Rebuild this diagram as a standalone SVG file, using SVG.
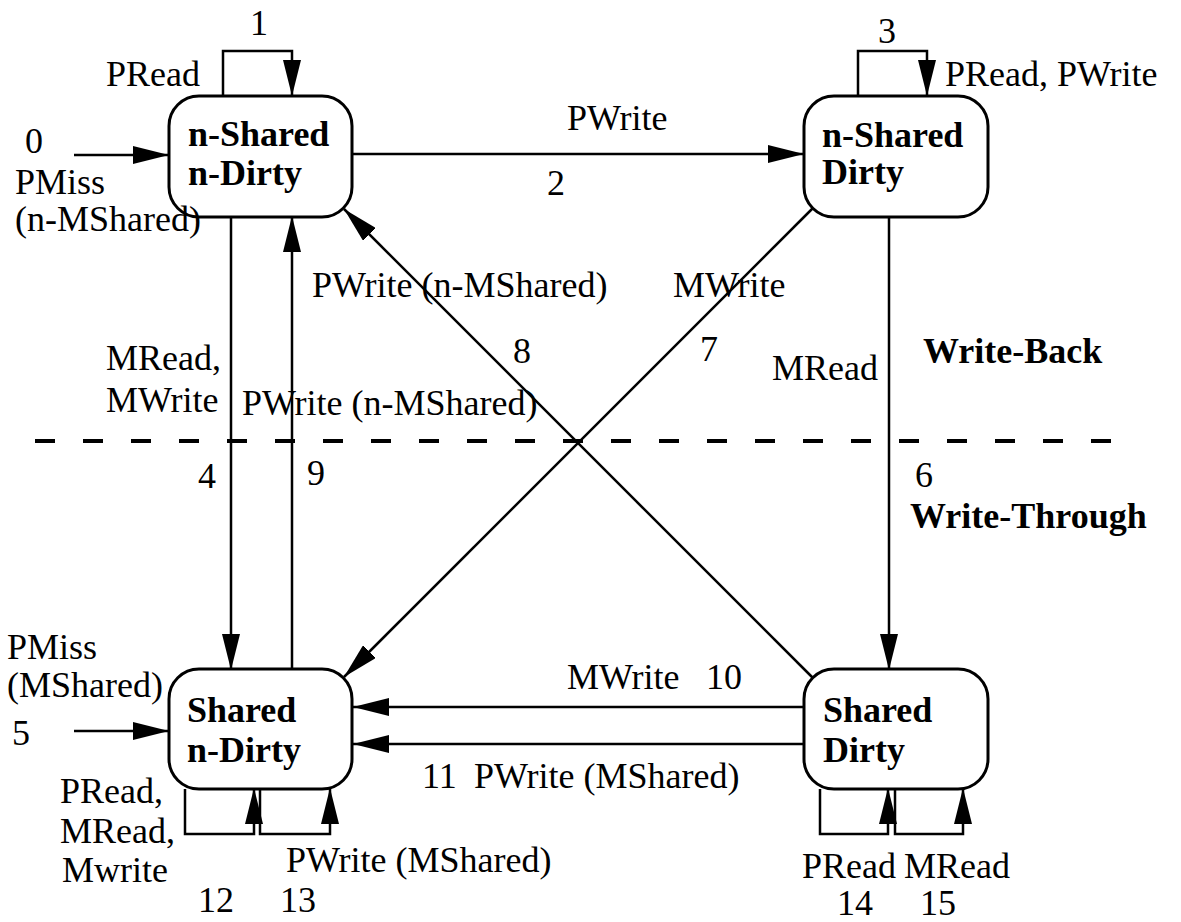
<svg xmlns="http://www.w3.org/2000/svg" width="1181" height="922" viewBox="0 0 1181 922">
  <style>
    .t { font-family: "Liberation Serif", "Times New Roman", serif; font-size: 36px; fill: #000; }
    .b { font-weight: bold; }
    .node { fill: #fff; stroke: #000; stroke-width: 3; }
    .edge { fill: none; stroke: #000; stroke-width: 2.5; }
    .dash { fill: none; stroke: #000; stroke-width: 4; stroke-dasharray: 20 28; }
  </style>
  <defs>
    <marker id="arr" viewBox="0 0 36 18" refX="36" refY="9" markerWidth="36" markerHeight="18" markerUnits="userSpaceOnUse" orient="auto">
      <path d="M0,0 L36,9 L0,18 z" fill="#000"/>
    </marker>
  </defs>
  <rect width="1181" height="922" fill="#fff"/>

  <g id="divider">
    <line class="dash" x1="35" y1="441" x2="1113" y2="441"/>
    <text class="t b" x="923" y="363">Write-Back</text>
    <text class="t b" x="910" y="528">Write-Through</text>
  </g>

  <g id="connectors">
    <line class="edge" x1="74" y1="155" x2="169" y2="155" marker-end="url(#arr)"/>
    <polyline class="edge" points="223,96 223,51 292,51 292,96" marker-end="url(#arr)"/>
    <line class="edge" x1="352" y1="154" x2="804" y2="154" marker-end="url(#arr)"/>
    <polyline class="edge" points="858,96 858,51 927,51 927,96" marker-end="url(#arr)"/>
    <line class="edge" x1="231" y1="217" x2="231" y2="670" marker-end="url(#arr)"/>
    <line class="edge" x1="74" y1="731" x2="169" y2="731" marker-end="url(#arr)"/>
    <line class="edge" x1="889" y1="217" x2="889" y2="670" marker-end="url(#arr)"/>
    <line class="edge" x1="813" y1="208" x2="344" y2="677" marker-end="url(#arr)"/>
    <line class="edge" x1="813" y1="678" x2="344" y2="209" marker-end="url(#arr)"/>
    <line class="edge" x1="292" y1="669" x2="292" y2="216" marker-end="url(#arr)"/>
    <line class="edge" x1="804" y1="707" x2="353" y2="707" marker-end="url(#arr)"/>
    <line class="edge" x1="804" y1="744" x2="353" y2="744" marker-end="url(#arr)"/>
    <polyline class="edge" points="185,789 185,834 254,834 254,788" marker-end="url(#arr)"/>
    <polyline class="edge" points="260,789 260,834 330,834 330,788" marker-end="url(#arr)"/>
    <polyline class="edge" points="820,789 820,834 888,834 888,788" marker-end="url(#arr)"/>
    <polyline class="edge" points="895,789 895,834 963,834 963,788" marker-end="url(#arr)"/>
  </g>

  <g id="node-nshared-ndirty">
    <rect class="node" x="169" y="96" width="183" height="121" rx="30" ry="30"/>
    <text class="t b" x="188" y="146">n-Shared</text>
    <text class="t b" x="188" y="185">n-Dirty</text>
  </g>
  <g id="node-nshared-dirty">
    <rect class="node" x="804" y="96" width="184" height="121" rx="30" ry="30"/>
    <text class="t b" x="822" y="147">n-Shared</text>
    <text class="t b" x="822" y="184">Dirty</text>
  </g>
  <g id="node-shared-ndirty">
    <rect class="node" x="169" y="669" width="183" height="120" rx="30" ry="30"/>
    <text class="t b" x="187" y="722">Shared</text>
    <text class="t b" x="187" y="762">n-Dirty</text>
  </g>
  <g id="node-shared-dirty">
    <rect class="node" x="804" y="669" width="184" height="120" rx="30" ry="30"/>
    <text class="t b" x="823" y="722">Shared</text>
    <text class="t b" x="823" y="762">Dirty</text>
  </g>

  <g id="labels">
    <text class="t" x="250" y="35">1</text>
    <text class="t" x="106" y="86">PRead</text>
    <text class="t" x="25" y="153">0</text>
    <text class="t" x="15" y="194">PMiss</text>
    <text class="t" x="15" y="231">(n-MShared)</text>
    <text class="t" x="567" y="130">PWrite</text>
    <text class="t" x="547" y="195">2</text>
    <text class="t" x="878" y="43">3</text>
    <text class="t" x="945" y="86">PRead, PWrite</text>
    <text class="t" x="312" y="297">PWrite (n-MShared)</text>
    <text class="t" x="673" y="297">MWrite</text>
    <text class="t" x="513" y="363">8</text>
    <text class="t" x="700" y="361">7</text>
    <text class="t" x="772" y="380">MRead</text>
    <text class="t" x="106" y="370">MRead,</text>
    <text class="t" x="106" y="412">MWrite</text>
    <text class="t" x="242" y="415">PWrite (n-MShared)</text>
    <text class="t" x="198" y="488">4</text>
    <text class="t" x="307" y="485">9</text>
    <text class="t" x="915" y="487">6</text>
    <text class="t" x="7" y="659">PMiss</text>
    <text class="t" x="7" y="697">(MShared)</text>
    <text class="t" x="12" y="745">5</text>
    <text class="t" x="567" y="689">MWrite</text>
    <text class="t" x="706" y="689">10</text>
    <text class="t" x="422" y="788">11</text>
    <text class="t" x="474" y="788">PWrite (MShared)</text>
    <text class="t" x="60" y="803">PRead,</text>
    <text class="t" x="60" y="843">MRead,</text>
    <text class="t" x="62" y="882">Mwrite</text>
    <text class="t" x="286" y="872">PWrite (MShared)</text>
    <text class="t" x="198" y="912">12</text>
    <text class="t" x="280" y="912">13</text>
    <text class="t" x="802" y="878">PRead</text>
    <text class="t" x="904" y="878">MRead</text>
    <text class="t" x="837" y="915">14</text>
    <text class="t" x="920" y="915">15</text>
  </g>
</svg>
